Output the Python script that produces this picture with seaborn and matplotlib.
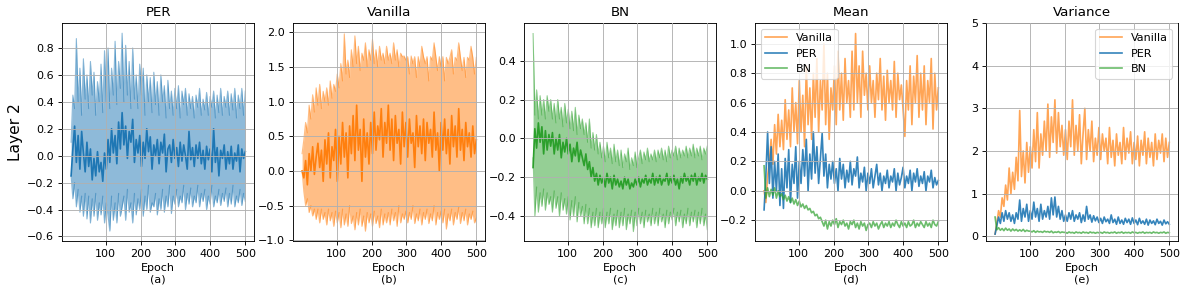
import numpy as np
import matplotlib
matplotlib.use("Agg")
import matplotlib.pyplot as plt
import seaborn as sns

epochs = np.linspace(1, 500, 100)

# --- (a) PER: mean and band edges ---
per_mean = [
    -0.15, 0.05, 0.22, -0.05, 0.15, -0.10, 0.18, 0.02, -0.12, 0.10,
    -0.08, 0.05, -0.18, -0.02, -0.15, 0.03, -0.12, -0.05, -0.19, 0.02,
    -0.10, 0.12, -0.05, 0.20, 0.02, 0.15, -0.06, 0.25, 0.05, 0.32,
    0.08, 0.22, -0.02, 0.18, 0.10, 0.27, -0.05, 0.12, 0.02, 0.15,
    -0.08, 0.10, -0.02, 0.20, 0.03, 0.14, -0.10, 0.08, 0.00, 0.12,
    -0.06, 0.10, 0.02, 0.16, -0.12, 0.05, 0.08, -0.05, 0.12, -0.02,
    0.06, -0.08, 0.10, -0.04, 0.08, 0.00, -0.10, 0.18, -0.03, 0.06,
    -0.08, 0.08, -0.02, 0.10, -0.06, 0.04, -0.10, 0.07, -0.03, 0.05,
    -0.12, 0.20, -0.05, 0.06, -0.15, 0.04, -0.02, 0.08, -0.10, 0.03,
    -0.06, 0.07, -0.10, 0.02, -0.04, 0.08, -0.12, 0.05, -0.02, 0.03,
]
per_upper = [
    0.10, 0.45, 0.35, 0.87, 0.40, 0.65, 0.30, 0.72, 0.42, 0.60,
    0.35, 0.70, 0.45, 0.62, 0.30, 0.55, 0.40, 0.68, 0.32, 0.78,
    0.40, 0.80, 0.35, 0.65, 0.45, 0.85, 0.38, 0.70, 0.50, 0.91,
    0.40, 0.82, 0.45, 0.70, 0.35, 0.80, 0.42, 0.60, 0.35, 0.68,
    0.45, 0.65, 0.30, 0.60, 0.40, 0.58, 0.32, 0.62, 0.38, 0.55,
    0.30, 0.60, 0.40, 0.52, 0.28, 0.56, 0.35, 0.48, 0.30, 0.50,
    0.35, 0.52, 0.28, 0.48, 0.38, 0.50, 0.30, 0.46, 0.35, 0.44,
    0.28, 0.45, 0.36, 0.50, 0.30, 0.42, 0.34, 0.47, 0.30, 0.44,
    0.36, 0.48, 0.28, 0.45, 0.32, 0.50, 0.30, 0.44, 0.36, 0.48,
    0.30, 0.46, 0.34, 0.50, 0.28, 0.45, 0.35, 0.50, 0.30, 0.48,
]
per_lower = [
    -0.15, -0.32, -0.20, -0.38, -0.25, -0.42, -0.30, -0.45, -0.28, -0.47,
    -0.30, -0.50, -0.32, -0.45, -0.28, -0.48, -0.35, -0.44, -0.30, -0.50,
    -0.35, -0.45, -0.56, -0.30, -0.48, -0.35, -0.50, -0.28, -0.45, -0.38,
    -0.30, -0.48, -0.25, -0.42, -0.35, -0.50, -0.28, -0.44, -0.32, -0.40,
    -0.25, -0.45, -0.30, -0.40, -0.22, -0.42, -0.35, -0.38, -0.28, -0.44,
    -0.32, -0.40, -0.25, -0.42, -0.30, -0.38, -0.22, -0.43, -0.30, -0.36,
    -0.25, -0.38, -0.30, -0.35, -0.22, -0.40, -0.28, -0.36, -0.24, -0.38,
    -0.30, -0.35, -0.22, -0.38, -0.28, -0.34, -0.25, -0.40, -0.30, -0.36,
    -0.22, -0.38, -0.30, -0.35, -0.25, -0.37, -0.28, -0.34, -0.24, -0.38,
    -0.28, -0.36, -0.22, -0.38, -0.30, -0.35, -0.25, -0.37, -0.28, -0.34,
]

# --- (b) Vanilla ---
van_mean = [
    0.00, -0.10, 0.15, -0.20, 0.25, 0.00, 0.35, -0.05, 0.20, 0.40,
    0.05, 0.30, -0.15, 0.45, 0.10, 0.55, -0.10, 0.35, 0.15, 0.60,
    -0.15, 0.50, 0.10, 0.70, 0.20, 0.55, -0.10, 0.65, 0.25, 0.80,
    0.15, 0.95, 0.30, 0.60, -0.15, 0.75, 0.20, 0.55, 0.10, 0.70,
    0.25, 0.85, 0.30, 0.65, 0.45, 0.90, 0.20, 0.70, 0.40, 0.95,
    0.30, 0.75, 0.15, 0.80, 0.40, 0.60, 0.10, 0.85, 0.35, 0.70,
    0.20, 0.75, 0.40, 0.55, 0.05, 0.80, 0.35, 0.65, 0.25, 0.75,
    0.15, 0.70, 0.40, 0.60, 0.20, 0.85, 0.30, 0.55, 0.00, 0.70,
    0.30, 0.75, 0.25, 0.60, 0.10, 0.80, 0.35, 0.65, 0.20, 0.90,
    0.30, 0.60, 0.15, 0.70, 0.35, 0.55, 0.20, 0.65, 0.25, 0.45,
]
van_upper = [
    0.25, 0.45, 0.70, 0.55, 0.95, 0.75, 1.10, 0.85, 1.20, 0.95,
    1.25, 0.90, 1.15, 1.00, 1.20, 0.95, 1.30, 1.05, 1.25, 1.15,
    1.40, 1.20, 1.55, 1.30, 1.98, 1.40, 1.60, 1.35, 1.75, 1.50,
    1.95, 1.55, 1.80, 1.45, 1.70, 1.60, 1.85, 1.50, 1.75, 1.60,
    1.90, 1.55, 1.75, 1.50, 1.80, 1.60, 1.70, 1.55, 1.80, 1.60,
    1.70, 1.55, 1.85, 1.60, 1.75, 1.50, 1.70, 1.65, 1.66, 1.60,
    1.65, 1.40, 1.66, 1.55, 1.65, 1.35, 1.65, 1.50, 1.80, 1.65,
    1.55, 1.65, 1.30, 1.65, 1.60, 1.85, 1.65, 1.45, 1.65, 1.50,
    1.65, 1.30, 1.64, 1.55, 1.64, 1.75, 1.40, 1.64, 1.60, 1.85,
    1.64, 1.45, 1.64, 1.35, 1.64, 1.60, 1.80, 1.64, 1.40, 1.64,
]
van_lower = [
    0.00, -0.30, -0.50, -0.40, -0.60, -0.50, -0.65, -0.55, -0.70, -0.55,
    -0.75, -0.55, -0.70, -0.60, -0.78, -0.55, -0.72, -0.60, -0.80, -0.58,
    -0.75, -0.60, -0.82, -0.55, -0.78, -0.62, -0.80, -0.50, -0.76, -0.65,
    -0.85, -0.60, -0.78, -0.55, -0.80, -0.65, -0.87, -0.60, -0.75, -0.62,
    -0.80, -0.58, -0.76, -0.65, -0.82, -0.55, -0.78, -0.62, -0.75, -0.60,
    -0.78, -0.55, -0.72, -0.60, -0.80, -0.50, -0.75, -0.62, -0.70, -0.58,
    -0.75, -0.60, -0.70, -0.50, -0.76, -0.62, -0.72, -0.55, -0.78, -0.60,
    -0.70, -0.55, -0.76, -0.62, -0.72, -0.50, -0.78, -0.60, -0.70, -0.58,
    -0.75, -0.55, -0.84, -0.62, -0.72, -0.55, -0.78, -0.60, -0.70, -0.52,
    -0.76, -0.60, -0.72, -0.55, -0.78, -0.62, -0.70, -0.58, -0.75, -0.68,
]

# --- (c) BN ---
bn_mean = [
    -0.15, 0.05, -0.05, 0.08, -0.02, 0.06, -0.08, 0.04, -0.06, 0.02,
    -0.04, 0.03, -0.08, 0.00, -0.06, 0.02, -0.10, -0.02, -0.07, 0.00,
    -0.08, -0.03, -0.12, -0.05, -0.09, -0.02, -0.12, -0.06, -0.10, -0.14,
    -0.08, -0.16, -0.12, -0.20, -0.15, -0.22, -0.18, -0.24, -0.19, -0.23,
    -0.20, -0.25, -0.18, -0.23, -0.20, -0.26, -0.19, -0.24, -0.21, -0.25,
    -0.22, -0.26, -0.20, -0.24, -0.21, -0.26, -0.23, -0.25, -0.21, -0.24,
    -0.20, -0.25, -0.21, -0.23, -0.19, -0.24, -0.21, -0.23, -0.18, -0.24,
    -0.20, -0.23, -0.19, -0.24, -0.21, -0.22, -0.18, -0.24, -0.20, -0.23,
    -0.19, -0.24, -0.21, -0.26, -0.20, -0.23, -0.18, -0.22, -0.20, -0.24,
    -0.19, -0.22, -0.18, -0.24, -0.20, -0.22, -0.18, -0.23, -0.19, -0.21,
]
bn_upper = [
    0.54, 0.12, 0.25, 0.10, 0.22, 0.12, 0.20, 0.10, 0.22, 0.14,
    0.20, 0.10, 0.18, 0.08, 0.20, 0.10, 0.16, 0.06, 0.18, 0.08,
    0.15, 0.05, 0.14, 0.04, 0.16, 0.02, 0.12, 0.05, 0.10, 0.02,
    0.08, -0.02, 0.10, -0.05, 0.03, -0.06, 0.02, -0.08, -0.02, -0.10,
    -0.04, -0.12, -0.02, -0.10, -0.05, -0.13, -0.03, -0.12, -0.06, -0.14,
    -0.06, -0.15, -0.08, -0.12, -0.05, -0.16, -0.10, -0.14, -0.07, -0.15,
    -0.10, -0.06, -0.13, -0.07, -0.11, -0.05, -0.12, -0.08, -0.11, -0.06,
    -0.12, -0.06, -0.10, -0.05, -0.11, -0.06, -0.12, -0.04, -0.10, -0.06,
    -0.09, -0.04, -0.11, -0.05, -0.10, -0.06, -0.09, -0.04, -0.10, -0.05,
    -0.09, -0.03, -0.10, -0.05, -0.09, -0.04, -0.11, -0.05, -0.08, -0.04,
]
bn_lower = [
    -0.10, -0.40, -0.25, -0.38, -0.28, -0.35, -0.26, -0.37, -0.28, -0.34,
    -0.30, -0.38, -0.27, -0.36, -0.30, -0.40, -0.28, -0.37, -0.31, -0.39,
    -0.30, -0.42, -0.32, -0.40, -0.30, -0.43, -0.33, -0.40, -0.35, -0.44,
    -0.34, -0.44, -0.36, -0.46, -0.38, -0.45, -0.36, -0.46, -0.38, -0.44,
    -0.36, -0.46, -0.38, -0.44, -0.36, -0.47, -0.39, -0.45, -0.37, -0.46,
    -0.38, -0.45, -0.36, -0.47, -0.39, -0.44, -0.37, -0.48, -0.38, -0.45,
    -0.36, -0.44, -0.38, -0.46, -0.37, -0.43, -0.39, -0.45, -0.36, -0.44,
    -0.38, -0.45, -0.36, -0.43, -0.39, -0.46, -0.37, -0.44, -0.38, -0.42,
    -0.36, -0.45, -0.38, -0.43, -0.37, -0.46, -0.39, -0.44, -0.36, -0.45,
    -0.38, -0.43, -0.37, -0.46, -0.38, -0.44, -0.36, -0.45, -0.39, -0.47,
]

# --- (d) Mean of the three models ---
mean_vanilla = [
    0.00, -0.08, 0.10, 0.20, 0.35, 0.18, 0.45, 0.25, 0.52, 0.30,
    0.48, 0.28, 0.62, 0.35, 0.55, 0.30, 0.70, 0.40, 0.60, 0.32,
    0.75, 0.40, 0.65, 0.30, 0.85, 0.45, 0.70, 0.35, 0.80, 0.50,
    0.90, 0.40, 0.75, 0.55, 1.00, 0.45, 0.80, 0.35, 0.70, 0.55,
    0.85, 0.45, 0.95, 0.55, 0.80, 0.48, 0.90, 0.60, 0.75, 0.50,
    0.95, 0.55, 1.07, 0.60, 0.85, 0.50, 0.95, 0.65, 0.80, 0.55,
    0.85, 0.60, 0.75, 0.50, 0.80, 0.62, 0.90, 0.55, 0.78, 0.48,
    0.82, 0.60, 0.75, 0.55, 0.88, 0.50, 0.80, 0.62, 0.72, 0.55,
    0.37, 0.75, 0.55, 0.85, 0.45, 0.78, 0.60, 0.92, 0.50, 0.80,
    0.55, 0.85, 0.45, 0.75, 0.60, 0.90, 0.42, 0.80, 0.55, 0.70,
]
mean_per = [
    -0.13, 0.10, 0.40, 0.05, 0.30, -0.05, 0.20, 0.00, 0.25, -0.10,
    0.15, -0.12, 0.22, 0.02, 0.28, -0.08, 0.18, 0.05, 0.30, -0.05,
    0.20, 0.05, 0.28, 0.10, 0.35, 0.00, 0.25, 0.08, 0.40, 0.12,
    0.30, 0.05, 0.22, 0.39, 0.10, 0.25, 0.02, 0.18, 0.08, 0.20,
    0.05, 0.15, 0.00, 0.22, 0.08, 0.18, 0.02, 0.14, 0.06, 0.20,
    0.04, 0.15, 0.10, 0.23, 0.02, 0.12, 0.06, 0.16, 0.00, 0.12,
    0.05, 0.15, 0.02, 0.10, 0.18, 0.04, 0.12, 0.00, 0.10, 0.05,
    0.14, 0.02, 0.10, 0.06, 0.15, 0.00, 0.12, 0.04, 0.09, 0.16,
    0.02, 0.10, 0.05, 0.14, 0.00, 0.12, 0.06, 0.15, 0.03, 0.10,
    0.05, 0.13, 0.00, 0.10, 0.06, 0.14, 0.02, 0.09, 0.04, 0.07,
]
mean_bn = [
    0.17, -0.05, 0.02, -0.04, 0.01, -0.03, 0.02, -0.05, 0.00, -0.04,
    -0.02, -0.06, -0.03, -0.07, -0.04, -0.08, -0.05, -0.09, -0.06, -0.10,
    -0.07, -0.11, -0.09, -0.12, -0.10, -0.13, -0.12, -0.15, -0.14, -0.17,
    -0.16, -0.19, -0.18, -0.21, -0.24, -0.20, -0.26, -0.21, -0.24, -0.20,
    -0.23, -0.19, -0.25, -0.21, -0.23, -0.20, -0.24, -0.22, -0.26, -0.21,
    -0.23, -0.20, -0.25, -0.22, -0.26, -0.21, -0.24, -0.22, -0.27, -0.23,
    -0.22, -0.25, -0.21, -0.24, -0.22, -0.26, -0.23, -0.21, -0.25, -0.22,
    -0.24, -0.21, -0.25, -0.22, -0.24, -0.20, -0.23, -0.25, -0.21, -0.24,
    -0.22, -0.25, -0.21, -0.24, -0.23, -0.20, -0.25, -0.22, -0.24, -0.21,
    -0.23, -0.25, -0.21, -0.24, -0.22, -0.25, -0.20, -0.23, -0.24, -0.21,
]

# --- (e) Variance of the three models ---
var_vanilla = [
    0.05, 0.30, 0.60, 0.45, 0.90, 0.70, 1.20, 0.85, 1.60, 1.00,
    1.50, 1.10, 1.85, 1.30, 2.95, 1.40, 2.00, 1.25, 2.20, 1.50,
    2.10, 1.60, 2.50, 1.75, 2.90, 1.60, 2.40, 1.90, 2.70, 2.00,
    3.10, 1.85, 2.80, 2.20, 3.20, 1.95, 2.90, 2.10, 2.60, 1.90,
    2.50, 1.80, 2.70, 2.10, 3.20, 1.90, 2.60, 2.00, 2.85, 1.70,
    2.40, 3.00, 1.80, 2.50, 2.00, 2.70, 1.75, 2.30, 1.90, 2.55,
    1.80, 2.40, 2.00, 2.30, 1.70, 2.55, 1.85, 2.25, 1.65, 2.40,
    1.90, 2.20, 1.70, 2.55, 1.80, 2.30, 1.95, 2.45, 1.70, 2.20,
    1.80, 2.35, 1.65, 2.25, 1.90, 2.45, 1.70, 2.30, 1.85, 2.20,
    1.65, 2.40, 1.80, 2.25, 1.95, 2.40, 1.75, 2.30, 1.85, 2.20,
]
var_per = [
    0.05, 0.25, 0.45, 0.30, 0.55, 0.35, 0.60, 0.40, 0.55, 0.35,
    0.50, 0.30, 0.55, 0.40, 0.85, 0.35, 0.65, 0.45, 0.75, 0.35,
    0.60, 0.40, 0.80, 0.45, 0.65, 0.35, 0.75, 0.40, 0.60, 0.45,
    0.70, 0.40, 0.90, 0.50, 0.92, 0.45, 0.70, 0.40, 0.60, 0.35,
    0.50, 0.35, 0.55, 0.40, 0.60, 0.35, 0.50, 0.40, 0.55, 0.32,
    0.50, 0.35, 0.70, 0.40, 0.50, 0.33, 0.48, 0.36, 0.45, 0.32,
    0.42, 0.30, 0.45, 0.34, 0.40, 0.30, 0.50, 0.32, 0.40, 0.28,
    0.45, 0.30, 0.38, 0.28, 0.42, 0.32, 0.40, 0.28, 0.43, 0.30,
    0.38, 0.27, 0.42, 0.30, 0.36, 0.28, 0.40, 0.26, 0.38, 0.30,
    0.36, 0.27, 0.40, 0.30, 0.35, 0.26, 0.38, 0.29, 0.34, 0.28,
]
var_bn = [
    0.45, 0.15, 0.20, 0.14, 0.18, 0.13, 0.19, 0.14, 0.17, 0.12,
    0.17, 0.13, 0.16, 0.12, 0.15, 0.12, 0.16, 0.11, 0.14, 0.12,
    0.12, 0.10, 0.13, 0.09, 0.12, 0.10, 0.11, 0.09, 0.12, 0.10,
    0.11, 0.09, 0.12, 0.08, 0.10, 0.09, 0.11, 0.08, 0.10, 0.09,
    0.09, 0.07, 0.10, 0.08, 0.09, 0.07, 0.10, 0.08, 0.09, 0.07,
    0.10, 0.08, 0.09, 0.07, 0.10, 0.08, 0.09, 0.07, 0.09, 0.08,
    0.09, 0.07, 0.10, 0.08, 0.09, 0.07, 0.09, 0.08, 0.10, 0.07,
    0.09, 0.08, 0.10, 0.07, 0.09, 0.08, 0.09, 0.07, 0.10, 0.08,
    0.09, 0.07, 0.09, 0.08, 0.10, 0.07, 0.09, 0.08, 0.09, 0.07,
    0.10, 0.08, 0.09, 0.07, 0.09, 0.08, 0.10, 0.07, 0.09, 0.08,
]

blue, orange, green = sns.color_palette("tab10")[:3]

fig, axes = plt.subplots(1, 5, figsize=(14.85, 3.75), dpi=80)
plt.subplots_adjust(left=0.0522, right=0.9916, bottom=0.197, top=0.923, wspace=0.203)

# panels a-c: band + mean line
bandas = [
    (axes[0], per_mean, per_upper, per_lower, blue, "PER", (-0.633, 0.985)),
    (axes[1], van_mean, van_upper, van_lower, orange, "Vanilla", (-1.01, 2.135)),
    (axes[2], bn_mean, bn_upper, bn_lower, green, "BN", (-0.528, 0.594)),
]
for ax, m, up, lo, cor, titulo, ylim in bandas:
    ax.fill_between(epochs, lo, up, color=cor, alpha=0.5, linewidth=0)
    sns.lineplot(x=epochs, y=up, ax=ax, color=cor, alpha=0.5, linewidth=1)
    sns.lineplot(x=epochs, y=lo, ax=ax, color=cor, alpha=0.5, linewidth=1)
    sns.lineplot(x=epochs, y=m, ax=ax, color=cor, linewidth=1.5)
    ax.set_title(titulo, fontsize=12)
    ax.set_ylim(*ylim)

axes[0].set_ylabel("Layer 2", fontsize=14)

# panel d: means
sns.lineplot(x=epochs, y=mean_vanilla, ax=axes[3], color=orange, alpha=0.7, label="Vanilla")
sns.lineplot(x=epochs, y=mean_per, ax=axes[3], color=blue, alpha=0.9, label="PER")
sns.lineplot(x=epochs, y=mean_bn, ax=axes[3], color=green, alpha=0.7, label="BN")
axes[3].set_title("Mean", fontsize=12)
axes[3].set_ylim(-0.341, 1.141)
axes[3].legend(loc="upper left", fontsize=10)

# panel e: variances
sns.lineplot(x=epochs, y=var_vanilla, ax=axes[4], color=orange, alpha=0.7, label="Vanilla")
sns.lineplot(x=epochs, y=var_per, ax=axes[4], color=blue, alpha=0.9, label="PER")
sns.lineplot(x=epochs, y=var_bn, ax=axes[4], color=green, alpha=0.7, label="BN")
axes[4].set_title("Variance", fontsize=12)
axes[4].set_ylim(-0.11, 5)
axes[4].legend(loc="upper right", fontsize=10)

letras = ["a", "b", "c", "d", "e"]
for ax, letra in zip(axes, letras):
    ax.set_xlim(-25, 525)
    ax.set_xticks([100, 200, 300, 400, 500])
    ax.set_xlabel(f"Epoch\n({letra})", fontsize=10)
    ax.tick_params(labelsize=10)
    ax.grid(True, color="#b0b0b0", linewidth=0.8)
    ax.set_axisbelow(False)

fig.savefig("out.png", dpi=80)
